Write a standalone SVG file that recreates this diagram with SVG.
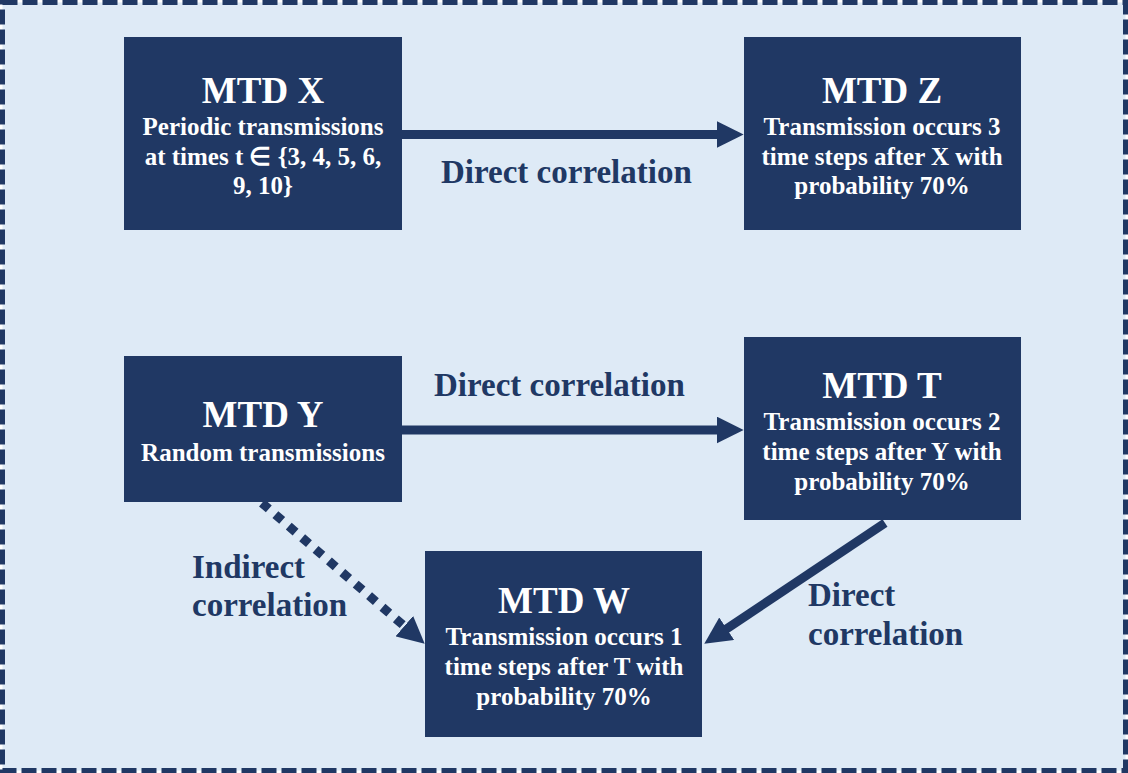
<svg xmlns="http://www.w3.org/2000/svg" width="1128" height="773" viewBox="0 0 1128 773">
<defs>
<style>
.box{fill:#203864}
.t{font-family:"Liberation Serif","Times New Roman",serif;font-weight:bold;fill:#fff;text-anchor:middle}
.h{font-size:37px}
.s{font-size:25px}
.lbl{font-family:"Liberation Serif","Times New Roman",serif;font-weight:bold;fill:#203864;font-size:33px}
.ln{stroke:#203864;stroke-width:9;fill:none}
</style>
<marker id="ah" viewBox="0 0 10 10" refX="0.5" refY="5" markerWidth="3" markerHeight="3" markerUnits="strokeWidth" orient="auto">
<path d="M0,0 L10,5 L0,10 Z" fill="#203864"/>
</marker>
</defs>
<rect x="2.5" y="2.5" width="1123" height="768" fill="#DEEAF6" stroke="#203864" stroke-width="5" stroke-dasharray="15,5"/>
<g id="connectors">
<line class="ln" x1="402" y1="134.5" x2="718" y2="134.5" marker-end="url(#ah)"/>
<line class="ln" x1="402" y1="430" x2="718" y2="430" marker-end="url(#ah)"/>
<line class="ln" x1="885" y1="523" x2="725.6" y2="629.5" marker-end="url(#ah)"/>
<line class="ln" x1="262" y1="503" x2="405.3" y2="627" stroke-dasharray="9,8.7" marker-end="url(#ah)"/>
<text class="lbl" x="441" y="183">Direct correlation</text>
<text class="lbl" x="434" y="396">Direct correlation</text>
<text class="lbl" x="192" y="578">Indirect</text>
<text class="lbl" x="192" y="616">correlation</text>
<text class="lbl" x="808" y="606">Direct</text>
<text class="lbl" x="808" y="645">correlation</text>
</g>
<g id="mtdx">
<rect class="box" x="124" y="37" width="278" height="193"/>
<text class="t h" x="263" y="103">MTD X</text>
<text class="t s" x="263" y="135">Periodic transmissions</text>
<text class="t s" x="263" y="165">at times t ∈ {3, 4, 5, 6,</text>
<text class="t s" x="263" y="194">9, 10}</text>
</g>
<g id="mtdz">
<rect class="box" x="744" y="37" width="277" height="193"/>
<text class="t h" x="882" y="103">MTD Z</text>
<text class="t s" x="882" y="135">Transmission occurs 3</text>
<text class="t s" x="882" y="165">time steps after X with</text>
<text class="t s" x="882" y="194">probability 70%</text>
</g>
<g id="mtdy">
<rect class="box" x="124" y="356" width="278" height="146"/>
<text class="t h" x="263" y="427">MTD Y</text>
<text class="t s" x="263" y="461">Random transmissions</text>
</g>
<g id="mtdt">
<rect class="box" x="744" y="337" width="277" height="183"/>
<text class="t h" x="882" y="398">MTD T</text>
<text class="t s" x="882" y="430">Transmission occurs 2</text>
<text class="t s" x="882" y="460">time steps after Y with</text>
<text class="t s" x="882" y="490">probability 70%</text>
</g>
<g id="mtdw">
<rect class="box" x="425" y="551" width="277" height="186"/>
<text class="t h" x="564" y="613">MTD W</text>
<text class="t s" x="564" y="645">Transmission occurs 1</text>
<text class="t s" x="564" y="675">time steps after T with</text>
<text class="t s" x="564" y="705">probability 70%</text>
</g>
</svg>
